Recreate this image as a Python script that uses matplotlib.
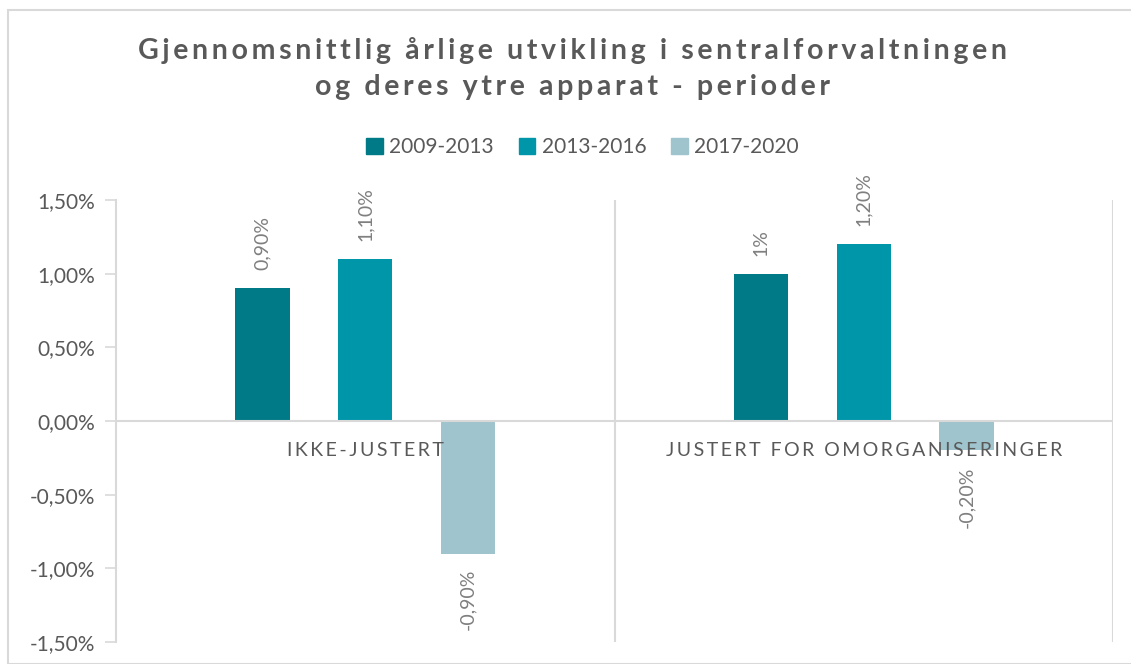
import matplotlib.pyplot as plt
from matplotlib.patches import Rectangle, Patch
from matplotlib.transforms import offset_copy
import numpy as np

plt.rcParams['font.family'] = ['Lato', 'DejaVu Sans']

kategorier = ['IKKE-JUSTERT', 'JUSTERT FOR OMORGANISERINGER']
perioder = ['2009-2013', '2013-2016', '2017-2020']
verdier = [[0.90, 1.00], [1.10, 1.20], [-0.90, -0.20]]
etiketter = [['0,90%', '1%'], ['1,10%', '1,20%'], ['-0,90%', '-0,20%']]
yticks = [-1.5, -1.0, -0.5, 0.0, 0.5, 1.0, 1.5]
ytick_tekst = ['-1,50%', '-1,00%', '-0,50%', '0,00%', '0,50%', '1,00%', '1,50%']
farger = ['#007A87', '#0096A9', '#A0C4CD']

tekstfarge = '#595959'
gridfarge = '#D9D9D9'


def sperr(s, sep='\u2009'):
    # enkel bokstavavstand
    return sep.join(list(s))


fig = plt.figure(figsize=(11.31, 6.64), dpi=100)
ax = fig.add_axes([116 / 1131, 22 / 664, (1113 - 116) / 1131, 442 / 664])

x = np.arange(len(kategorier))
steg = 0.206
bredde = 0.109
for i, p in enumerate(perioder):
    pos = x + (i - 1) * steg
    ax.bar(pos, verdier[i], width=bredde, color=farger[i], label=p, zorder=3)
    for j in range(len(kategorier)):
        v = verdier[i][j]
        if v >= 0:
            ax.annotate(etiketter[i][j], (pos[j], v), xytext=(0, 18), textcoords='offset pixels',
                        rotation=90, ha='center', va='bottom', fontsize=14, color='#7F7F7F')
        else:
            lengde = -v * 442 / 3
            off = max(15, 46 - lengde)
            ax.annotate(etiketter[i][j], (pos[j], v), xytext=(0, -off), textcoords='offset pixels',
                        rotation=90, ha='center', va='top', fontsize=14, color='#7F7F7F')

ax.set_xlim(-0.5, 1.5)
ax.set_ylim(-1.5, 1.5)
ax.set_yticks(yticks)
ax.set_yticklabels(ytick_tekst, fontsize=15, color=tekstfarge)
ax.tick_params(axis='y', length=8, color=gridfarge, width=1.2, pad=7)
ax.set_xticks([])

for s in ['top', 'bottom', 'right']:
    ax.spines[s].set_visible(False)
ax.spines['left'].set_color(gridfarge)
ax.spines['left'].set_linewidth(1.5)

# vertikale kategoriskiller
for xv in [0.5, 1.5]:
    ax.axvline(xv, color=gridfarge, lw=1.5, zorder=1)
ax.axhline(0, color=gridfarge, lw=1.5, zorder=4)

trans = offset_copy(ax.transData, fig=fig, y=-29, units='dots')
for j, k in enumerate(kategorier):
    ax.text(j, 0, sperr(k), transform=trans, ha='center', va='center',
            fontsize=14, color=tekstfarge, zorder=5)

fig.text(0.506, 1 - 50 / 664, sperr('Gjennomsnittlig årlige utvikling i sentralforvaltningen'),
         ha='center', va='center', fontsize=20.5, fontweight='bold', color=tekstfarge)
fig.text(0.506, 1 - 87 / 664, sperr('og deres ytre apparat - perioder'),
         ha='center', va='center', fontsize=20.5, fontweight='bold', color=tekstfarge)

handles = [Patch(color=c) for c in farger]
fig.legend(handles, perioder, loc='center', bbox_to_anchor=(0.515, 1 - 147 / 664), ncol=3,
           frameon=False, fontsize=15, labelcolor=tekstfarge, handlelength=0.8, handleheight=0.8,
           handletextpad=0.3, columnspacing=1.2)

fig.patches.append(Rectangle((8 / 1131, 0), 1.2, 1 - 10 / 664, transform=fig.transFigure,
                             fill=False, edgecolor=gridfarge, lw=1.5))

fig.savefig('out.png', dpi=100)
